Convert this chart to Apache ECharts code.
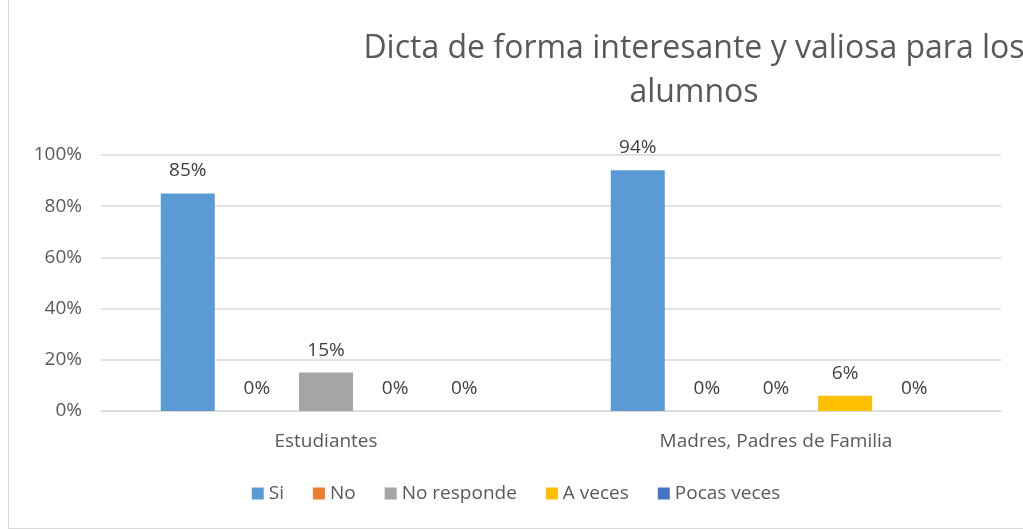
<!DOCTYPE html>
<html><head><meta charset="utf-8">
<script src="https://cdn.jsdelivr.net/npm/echarts@6/dist/echarts.min.js"></script>
<style>html,body{margin:0;padding:0;background:#fff}#c{height:529px;box-sizing:border-box;border-left:1px solid #d9d9d9;border-bottom:1px solid #d9d9d9;margin-left:8px;width:1015px}</style>
</head><body><div id="c"></div>
<script>
var categories = ["Estudiantes", "Madres, Padres de Familia"];
var seriesNames = ["Si", "No", "No responde", "A veces", "Pocas veces"];
var si = [85, 94];
var no = [0, 0];
var noResponde = [15, 0];
var aVeces = [0, 6];
var pocasVeces = [0, 0];
var yTicks = [0, 20, 40, 60, 80, 100];
var colors = ["#5B9BD5", "#ED7D31", "#A5A5A5", "#FFC000", "#4472C4"];
var values = [si, no, noResponde, aVeces, pocasVeces];
var font = "Open Sans";
var chart = echarts.init(document.getElementById('c'));
chart.setOption({
  animation: false,
  title: {text: "Dicta de forma interesante y valiosa para los\nalumnos", left: 680, top: 22, textAlign: 'center',
    textStyle: {fontFamily: font, fontWeight: 'normal', fontSize: 32, color: '#595959', lineHeight: 44}},
  legend: {bottom: 20, left: 'center', itemWidth: 12, itemHeight: 12, itemGap: 29, itemTextGap: 6, icon: 'rect',
    textStyle: {fontFamily: font, fontSize: 19, color: '#595959'}, data: seriesNames},
  grid: {left: 92, right: 22, top: 155, bottom: 117},
  xAxis: {type: 'category', data: categories, axisTick: {show: false}, axisLine: {lineStyle: {color: '#d9d9d9'}},
    axisLabel: {fontFamily: font, fontSize: 19, color: '#595959', margin: 21}},
  yAxis: {type: 'value', min: 0, max: 100, interval: 20, axisLine: {show: false}, axisTick: {show: false},
    splitLine: {lineStyle: {color: '#d9d9d9', width: 1.5}},
    axisLabel: {fontFamily: font, fontSize: 19, color: '#595959', margin: 19, formatter: function(v){return yTicks.indexOf(v) >= 0 ? v + '%' : '';}}},
  series: seriesNames.map(function(n, i){
    return {name: n, type: 'bar', data: values[i], barWidth: 54, barGap: '28%', itemStyle: {color: colors[i]},
      label: {show: true, position: 'top', distance: 13, formatter: '{c}%', fontFamily: font, fontSize: 19, color: '#404040'}};
  })
});
</script></body></html>
